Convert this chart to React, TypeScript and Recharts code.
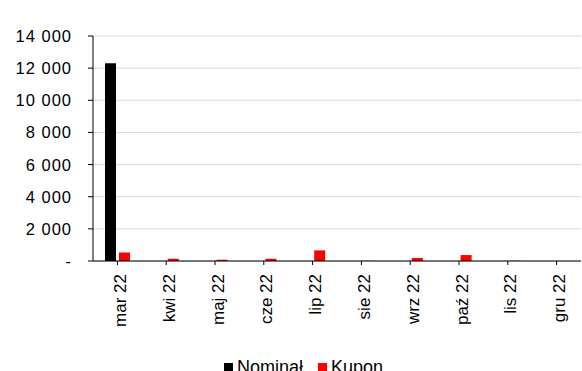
import React from 'react';
import { BarChart, Bar, XAxis, YAxis, CartesianGrid, Legend } from 'recharts';

const months = ['mar 22', 'kwi 22', 'maj 22', 'cze 22', 'lip 22', 'sie 22', 'wrz 22', 'paź 22', 'lis 22', 'gru 22'];
const nominal = [12300, 0, 0, 0, 0, 0, 0, 0, 0, 0];
const kupon = [530, 140, 80, 140, 660, 10, 190, 370, 20, 0];
const yTicks = [0, 2000, 4000, 6000, 8000, 10000, 12000, 14000];
const seriesNames = ['Nominał', 'Kupon'];
const seriesColors = ['#000000', '#ff0000'];

const data = months.map((m, i) => ({ month: m, nominal: nominal[i], kupon: kupon[i] }));

const FONT = '"Liberation Sans", Arial, sans-serif';

const fmt = (v: number) => {
  if (v === 0) return '-';
  const s = String(Math.round(v));
  return s.replace(/\B(?=(\d{3})+(?!\d))/g, ' ');
};

const YTick = (props: any) => {
  const { y, payload } = props;
  return (
    <text x={72} y={y} textAnchor="end" dominantBaseline="central" fontFamily={FONT} fontSize={16.5} letterSpacing={1} fill="#000">
      {fmt(payload.value)}
    </text>
  );
};

const XTick = (props: any) => {
  const { x, payload } = props;
  return (
    <g transform={`translate(${x + 3},274) rotate(-90)`}>
      <text x={0} y={0} textAnchor="end" dominantBaseline="central" fontFamily={FONT} fontSize={17} fill="#000">
        {payload.value}
      </text>
    </g>
  );
};

const LegendContent = () => (
  <div style={{ display: 'flex', alignItems: 'flex-start', paddingLeft: 224, fontFamily: FONT, fontSize: 18, lineHeight: '20px', color: '#000', whiteSpace: 'nowrap' }}>
    {seriesNames.map((n, i) => (
      <div key={n} style={{ display: 'flex', alignItems: 'flex-start', marginRight: i === 0 ? 15 : 0 }}>
        <span style={{ display: 'inline-block', width: 9, height: 9, background: seriesColors[i], marginTop: 6, marginRight: 4 }} />
        <span>{n}</span>
      </div>
    ))}
  </div>
);

export default function App() {
  return (
    <div style={{ position: 'absolute', left: 0, top: 0, width: 582, height: 371, background: '#fff', overflow: 'hidden' }}>
      <BarChart width={582} height={371} data={data} margin={{ top: 36, right: 1, left: 0, bottom: 0 }} barSize={11} barGap={3}>
        <CartesianGrid vertical={false} stroke="#d9d9d9" />
        <XAxis
          dataKey="month"
          interval={0}
          height={96}
          tickSize={4}
          axisLine={{ stroke: '#000' }}
          tickLine={{ stroke: '#000' }}
          tick={<XTick />}
        />
        <YAxis
          width={93}
          domain={[0, 14000]}
          ticks={yTicks}
          interval={0}
          tickSize={5}
          axisLine={{ stroke: '#000' }}
          tickLine={{ stroke: '#000' }}
          tick={<YTick />}
        />
        <Legend
          verticalAlign="bottom"
          content={<LegendContent />}
          wrapperStyle={{ left: 0, bottom: 0, width: 582, height: 14, overflow: 'visible' }}
        />
        <Bar dataKey="nominal" name={seriesNames[0]} fill={seriesColors[0]} isAnimationActive={false} />
        <Bar dataKey="kupon" name={seriesNames[1]} fill={seriesColors[1]} isAnimationActive={false} />
      </BarChart>
    </div>
  );
}
